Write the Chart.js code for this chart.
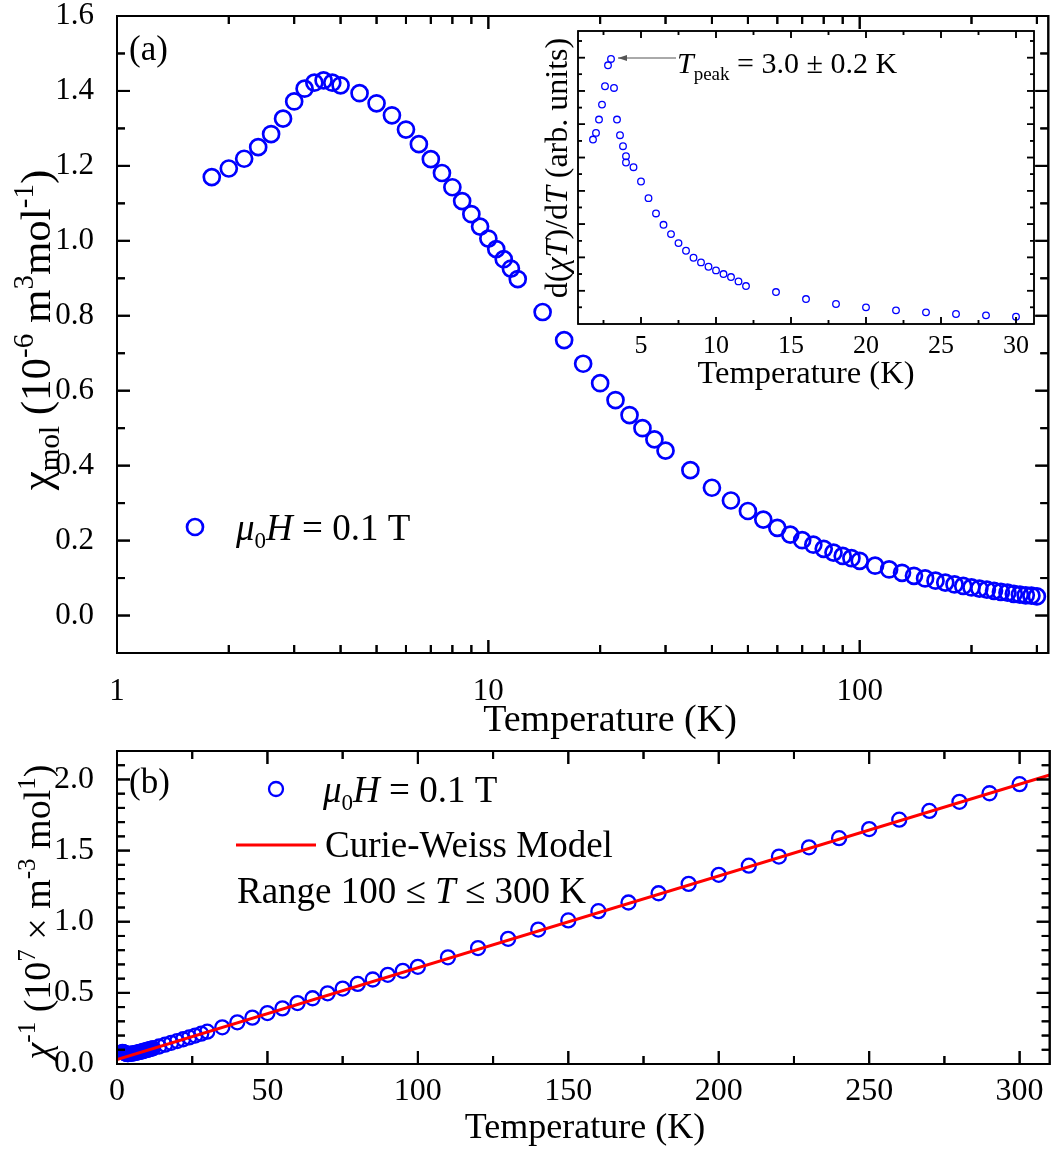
<!DOCTYPE html>
<html>
<head>
<meta charset="utf-8">
<script src="https://cdn.jsdelivr.net/npm/chart.js@4.4.1/dist/chart.umd.min.js"></script>
<style>
  body { margin: 0; background: #fff; }
  #wrap { position: relative; width: 1059px; height: 1156px; }
  canvas { position: absolute; }
</style>
</head>
<body>
<div id="wrap">
  <canvas id="mainChart" width="1059" height="740" style="left:0;top:0"></canvas>
  <canvas id="insetChart" width="589" height="400" style="left:470px;top:0"></canvas>
  <canvas id="invChart" width="1059" height="416" style="left:0;top:740px"></canvas>
</div>
<script>
// Measured temperatures (K), shared by panels (a) and (b)
const temps = [1.8, 2.0, 2.2, 2.4, 2.6, 2.8, 3.0, 3.2, 3.4, 3.6, 3.8, 4.0,
  4.5, 5, 5.5, 6, 6.5, 7, 7.5, 8, 8.5, 9, 9.5, 10, 10.5, 11, 11.5, 12,
  14, 16, 18, 20, 22, 24, 26, 28, 30,
  35, 40, 45, 50, 55, 60, 65, 70, 75, 80, 85, 90, 95, 100,
  110, 120, 130, 140, 150, 160, 170, 180, 190, 200, 210, 220, 230, 240, 250, 260, 270, 280, 290, 300];

// (a) chi_mol in 1e-6 m^3 mol^-1
const chiMol = [1.170, 1.193, 1.219, 1.250, 1.285, 1.326, 1.372, 1.406, 1.422, 1.428, 1.422, 1.415,
  1.394, 1.367, 1.335, 1.297, 1.258, 1.218, 1.181, 1.143, 1.106, 1.071, 1.038, 1.006, 0.978, 0.951, 0.926, 0.898,
  0.810, 0.735, 0.672, 0.620, 0.575, 0.535, 0.500, 0.470, 0.440,
  0.388, 0.341, 0.307, 0.279, 0.256, 0.234, 0.216, 0.201, 0.189, 0.178, 0.168, 0.159, 0.153, 0.146,
  0.133, 0.123, 0.114, 0.106, 0.099, 0.093, 0.088, 0.083, 0.079, 0.075, 0.072, 0.069, 0.066, 0.063, 0.061, 0.058, 0.056, 0.054, 0.053, 0.051];

// (b) inverse susceptibility in 1e7 m^-3 mol
const chiInv = [0.085, 0.084, 0.082, 0.080, 0.078, 0.075, 0.073, 0.071, 0.070, 0.070, 0.070, 0.071,
  0.072, 0.073, 0.075, 0.077, 0.080, 0.082, 0.085, 0.087, 0.090, 0.093, 0.096, 0.099, 0.102, 0.105, 0.108, 0.111,
  0.123, 0.136, 0.149, 0.161, 0.174, 0.187, 0.200, 0.213, 0.227,
  0.258, 0.293, 0.326, 0.358, 0.391, 0.428, 0.462, 0.497, 0.530, 0.563, 0.594, 0.627, 0.655, 0.683,
  0.750, 0.815, 0.880, 0.945, 1.009, 1.074, 1.135, 1.200, 1.266, 1.330, 1.394, 1.458, 1.523, 1.587, 1.651, 1.717, 1.779, 1.843, 1.903, 1.967];

// Curie-Weiss fit line end points
const fitT = [0, 310];
const fitInv = [0.031, 2.031];

// inset: d(chi T)/dT, arbitrary units
const derivT = [1.8, 2.0, 2.2, 2.4, 2.6, 2.8, 3.0, 3.2, 3.4, 3.6, 3.8, 4.0, 4.0,
  4.5, 5, 5.5, 6, 6.5, 7, 7.5, 8, 8.5, 9, 9.5, 10, 10.5, 11, 11.5, 12,
  14, 16, 18, 20, 22, 24, 26, 28, 30];
const derivVal = [11.08, 11.48, 12.28, 13.18, 14.28, 15.54, 15.92, 14.18, 12.28, 11.34, 10.68, 10.08, 9.70,
  9.42, 8.56, 7.56, 6.64, 5.96, 5.40, 4.86, 4.40, 3.98, 3.70, 3.44, 3.22, 3.00, 2.82, 2.56, 2.28,
  1.92, 1.50, 1.20, 1.00, 0.82, 0.70, 0.60, 0.52, 0.44];

// tick values
const mainXMajor = [1, 10, 100];
const mainXMinor = [2, 3, 4, 5, 6, 7, 8, 9, 20, 30, 40, 50, 60, 70, 80, 90, 200, 300];
const mainYMajor = [0, 0.2, 0.4, 0.6, 0.8, 1.0, 1.2, 1.4, 1.6];
const mainYMinor = [0.1, 0.3, 0.5, 0.7, 0.9, 1.1, 1.3, 1.5];
const insetXMajor = [5, 10, 15, 20, 25, 30];
const insetXMinor = [2.5, 7.5, 12.5, 17.5, 22.5, 27.5];
const insetYMajor = [2, 4, 6, 8, 10, 12, 14, 16];
const insetYMinor = [1, 3, 5, 7, 9, 11, 13, 15, 17];
const invXMajor = [0, 50, 100, 150, 200, 250, 300];
const invXMinor = [25, 75, 125, 175, 225, 275];
const invYMajor = [0, 0.5, 1.0, 1.5, 2.0];
const invYMinor = [0.1, 0.2, 0.3, 0.4, 0.6, 0.7, 0.8, 0.9, 1.1, 1.2, 1.3, 1.4, 1.6, 1.7, 1.8, 1.9, 2.1];

const SERIF = '"Liberation Serif", "Times New Roman", serif';
const BLUE = '#0000ff';
Chart.defaults.font.family = SERIF;
Chart.defaults.color = '#000';

function pts(xs, ys) {
  return xs.map((x, i) => ({ x: x, y: ys[i] }));
}

function setTicks(values) {
  return scale => { scale.ticks = values.map(v => ({ value: v })); };
}

function fitBox(w, h) {
  return scale => {
    if (w != null) scale.width = w;
    if (h != null) scale.height = h;
    scale.paddingTop = scale.paddingBottom = scale.paddingLeft = scale.paddingRight = 0;
  };
}

function drawRich(ctx, item) {
  const size = item.size;
  const small = item.small || 0.62;
  const fontFor = r => (r.i ? 'italic ' : '') + ((r.sub || r.sup) ? Math.round(size * small) : size) + 'px ' + SERIF;
  ctx.save();
  ctx.translate(item.x, item.y);
  if (item.rotate) ctx.rotate(item.rotate);
  ctx.fillStyle = '#000';
  ctx.textBaseline = 'alphabetic';
  ctx.textAlign = 'left';
  let total = 0;
  const widths = item.runs.map(r => {
    ctx.font = fontFor(r);
    const w = ctx.measureText(r.t).width;
    total += w;
    return w;
  });
  let cx = item.align === 'center' ? -total / 2 : 0;
  item.runs.forEach((r, k) => {
    ctx.font = fontFor(r);
    const dy = r.sub ? size * 0.22 : r.sup ? -size * 0.4 : 0;
    ctx.fillText(r.t, cx, dy);
    cx += widths[k];
  });
  ctx.restore();
}

// inward tick marks on all four sides of the plot frame
function drawFrame(chart, cfg) {
  const ctx = chart.ctx, a = chart.chartArea;
  const xs = chart.scales.x, ys = chart.scales.y;
  const lw = cfg.lineWidth;
  ctx.save();
  ctx.globalAlpha = 1;
  ctx.globalCompositeOperation = 'source-over';
  ctx.fillStyle = '#000';
  [[cfg.xMajor, cfg.majorLen], [cfg.xMinor, cfg.minorLen]].forEach(([vals, len]) => {
    vals.forEach(v => {
      const px = xs.getPixelForValue(v);
      ctx.fillRect(px - lw / 2, a.bottom - len, lw, len);
      ctx.fillRect(px - lw / 2, a.top, lw, len);
    });
  });
  [[cfg.yMajor, cfg.majorLen], [cfg.yMinor, cfg.minorLen]].forEach(([vals, len]) => {
    vals.forEach(v => {
      const py = ys.getPixelForValue(v);
      ctx.fillRect(a.left, py - lw / 2, len, lw);
      ctx.fillRect(a.right - len, py - lw / 2, len, lw);
    });
  });
  ctx.strokeStyle = '#000';
  ctx.lineWidth = lw;
  ctx.strokeRect(a.left, a.top, a.right - a.left, a.bottom - a.top);
  ctx.restore();
}

function drawMarks(ctx, marks) {
  marks.forEach(m => {
    ctx.save();
    ctx.beginPath();
    ctx.strokeStyle = m.color;
    ctx.lineWidth = m.lw;
    if (m.type === 'circle') {
      ctx.arc(m.x, m.y, m.r, 0, Math.PI * 2);
      ctx.stroke();
    } else {
      ctx.moveTo(m.x1, m.y1);
      ctx.lineTo(m.x2, m.y2);
      ctx.stroke();
      if (m.head) {
        ctx.fillStyle = m.color;
        ctx.beginPath();
        ctx.moveTo(m.x2, m.y2);
        ctx.lineTo(m.x2 + 9, m.y2 - 3);
        ctx.lineTo(m.x2 + 9, m.y2 + 3);
        ctx.closePath();
        ctx.fill();
      }
    }
    ctx.restore();
  });
}

const frames = [];
function framePlugin(cfg) {
  return {
    id: 'frame',
    afterDraw(chart) {
      drawFrame(chart, cfg);
      drawMarks(chart.ctx, cfg.marks || []);
      (cfg.texts || []).forEach(t => drawRich(chart.ctx, t));
    }
  };
}

function makeChart(id, config, cfg) {
  const chart = new Chart(document.getElementById(id), Object.assign(config, { plugins: [framePlugin(cfg)] }));
  frames.push({ chart: chart, cfg: cfg });
  return chart;
}

const R = (t, f) => Object.assign({ t: t }, f || {});
const tickFont = size => ({ size: size, lineHeight: 1 });

// panel (a)
makeChart('mainChart', {
  type: 'scatter',
  data: {
    datasets: [{
      data: pts(temps, chiMol),
      pointRadius: 8,
      pointBorderWidth: 2.7,
      borderColor: BLUE,
      backgroundColor: 'rgba(0,0,0,0)'
    }]
  },
  options: {
    responsive: false,
    animation: false,
    layout: { padding: { left: 0, right: 9, top: 16, bottom: 0 } },
    plugins: { legend: { display: false }, tooltip: { enabled: false } },
    scales: {
      x: {
        type: 'logarithmic', min: 1, max: 322,
        afterBuildTicks: setTicks(mainXMajor),
        afterFit: fitBox(null, 87),
        grid: { display: false }, border: { display: false },
        ticks: { font: tickFont(31), padding: 15, autoSkip: false, maxRotation: 0, callback: v => String(v) }
      },
      y: {
        type: 'linear', min: -0.1, max: 1.6,
        afterBuildTicks: setTicks(mainYMajor),
        afterFit: fitBox(117, null),
        grid: { display: false }, border: { display: false },
        ticks: { font: tickFont(31), padding: 15, callback: v => v.toFixed(1) }
      }
    }
  }
}, {
  lineWidth: 2, majorLen: 13, minorLen: 8,
  xMajor: mainXMajor, xMinor: mainXMinor, yMajor: mainYMajor, yMinor: mainYMinor,
  marks: [{ type: 'circle', x: 195, y: 527, r: 8, lw: 2.7, color: BLUE }],
  texts: [
    { runs: [R('(a)')], x: 129, y: 60, size: 35 },
    { runs: [R('Temperature (K)')], x: 610, y: 731, size: 38, align: 'center' },
    { runs: [R('χ'), R('mol', { sub: true }), R(' (10'), R('-6', { sup: true }), R(' m'), R('3', { sup: true }),
             R('mol'), R('-1', { sup: true }), R(')')],
      x: 50, y: 330, size: 43, small: 0.68, align: 'center', rotate: -Math.PI / 2 },
    { runs: [R('μ', { i: true }), R('0', { sub: true }), R('H', { i: true }), R(' = 0.1 T')],
      x: 236, y: 540, size: 37 }
  ]
});

// inset of panel (a)
makeChart('insetChart', {
  type: 'scatter',
  data: {
    datasets: [{
      data: pts(derivT, derivVal),
      pointRadius: 3.3,
      pointBorderWidth: 1.3,
      borderColor: BLUE,
      backgroundColor: 'rgba(0,0,0,0)'
    }]
  },
  options: {
    responsive: false,
    animation: false,
    layout: { padding: { left: 0, right: 25, top: 31, bottom: 0 } },
    plugins: { legend: { display: false }, tooltip: { enabled: false } },
    scales: {
      x: {
        type: 'linear', min: 0.8, max: 31.2,
        afterBuildTicks: setTicks(insetXMajor),
        afterFit: fitBox(null, 76),
        grid: { display: false }, border: { display: false },
        ticks: { font: tickFont(26), padding: 1, autoSkip: false, maxRotation: 0 }
      },
      y: {
        type: 'linear', min: 0, max: 17.6,
        afterBuildTicks: setTicks(insetYMajor),
        afterFit: fitBox(108, null),
        grid: { display: false }, border: { display: false },
        ticks: { display: false }
      }
    }
  }
}, {
  lineWidth: 1.5, majorLen: 7, minorLen: 4,
  xMajor: insetXMajor, xMinor: insetXMinor, yMajor: insetYMajor, yMinor: insetYMinor,
  marks: [{ type: 'line', x1: 206, y1: 58, x2: 148, y2: 58, lw: 1, color: '#555', head: true }],
  texts: [
    { runs: [R('T', { i: true }), R('peak', { sub: true }), R(' = 3.0 ± 0.2 K')], x: 207, y: 73, size: 30 },
    { runs: [R('Temperature (K)')], x: 336, y: 383, size: 32.5, align: 'center' },
    { runs: [R('d('), R('χ', { i: true }), R('T', { i: true }), R(')/d'), R('T', { i: true }), R(' (arb. units)')],
      x: 97, y: 168, size: 32, align: 'center', rotate: -Math.PI / 2 }
  ]
});

// panel (b)
makeChart('invChart', {
  type: 'scatter',
  data: {
    datasets: [{
      data: pts(fitT, fitInv),
      showLine: true,
      borderColor: '#ff0000',
      borderWidth: 3,
      pointRadius: 0
    }, {
      data: pts(temps, chiInv),
      pointRadius: 7,
      pointBorderWidth: 2.3,
      borderColor: BLUE,
      backgroundColor: 'rgba(0,0,0,0)'
    }]
  },
  options: {
    responsive: false,
    animation: false,
    layout: { padding: { left: 0, right: 9, top: 11, bottom: 0 } },
    plugins: { legend: { display: false }, tooltip: { enabled: false } },
    scales: {
      x: {
        type: 'linear', min: 0, max: 310,
        afterBuildTicks: setTicks(invXMajor),
        afterFit: fitBox(null, 92),
        grid: { display: false }, border: { display: false },
        ticks: { font: tickFont(32), padding: 4, autoSkip: false, maxRotation: 0 }
      },
      y: {
        type: 'linear', min: 0, max: 2.2,
        afterBuildTicks: setTicks(invYMajor),
        afterFit: fitBox(117, null),
        grid: { display: false }, border: { display: false },
        ticks: { font: tickFont(32), padding: 15, callback: v => v.toFixed(1) }
      }
    }
  }
}, {
  lineWidth: 2, majorLen: 13, minorLen: 8,
  xMajor: invXMajor, xMinor: invXMinor, yMajor: invYMajor, yMinor: invYMinor,
  marks: [
    { type: 'circle', x: 276, y: 49, r: 7, lw: 2.3, color: BLUE },
    { type: 'line', x1: 236, y1: 105, x2: 316, y2: 105, lw: 3, color: '#ff0000' }
  ],
  texts: [
    { runs: [R('(b)')], x: 129, y: 53, size: 35 },
    { runs: [R('μ', { i: true }), R('0', { sub: true }), R('H', { i: true }), R(' = 0.1 T')], x: 323, y: 62, size: 37 },
    { runs: [R('Curie-Weiss Model')], x: 325, y: 117, size: 37 },
    { runs: [R('Range 100 ≤ '), R('T', { i: true }), R(' ≤ 300 K')], x: 237, y: 163, size: 37 },
    { runs: [R('Temperature (K)')], x: 585, y: 398, size: 36, align: 'center' },
    { runs: [R('χ', { i: true }), R('-1', { sup: true }), R(' (10'), R('7', { sup: true }), R(' × m'), R('-3', { sup: true }),
             R(' mol'), R('1', { sup: true }), R(')')],
      x: 50, y: 172, size: 38, small: 0.66, align: 'center', rotate: -Math.PI / 2 }
  ]
});

// make sure the frame ticks are on top once every chart has rendered
frames.forEach(f => drawFrame(f.chart, f.cfg));
</script>
</body>
</html>
